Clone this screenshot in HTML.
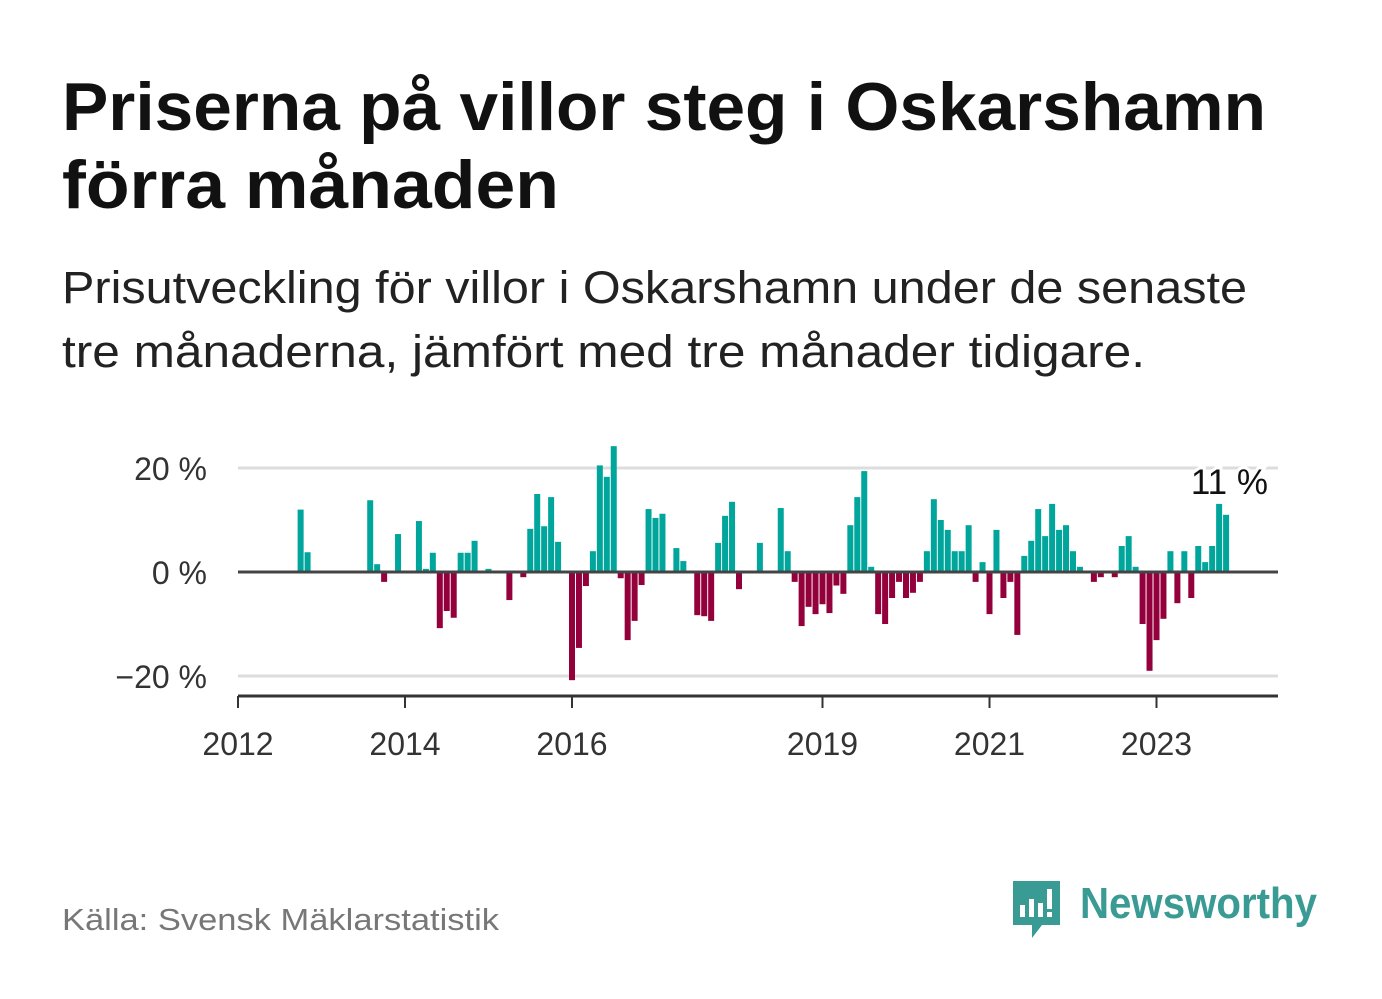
<!DOCTYPE html>
<html><head><meta charset="utf-8"><style>
html,body{margin:0;padding:0;background:#fff;}
svg{display:block;font-family:"Liberation Sans",sans-serif;}
</style></head><body>
<svg id="chart" width="1382" height="999" viewBox="0 0 1382 999">
<text x="62" y="130" font-size="68" font-weight="bold" fill="#111" textLength="1204" lengthAdjust="spacingAndGlyphs">Priserna på villor steg i Oskarshamn</text>
<text x="62" y="208" font-size="68" font-weight="bold" fill="#111" textLength="497" lengthAdjust="spacingAndGlyphs">förra månaden</text>
<text x="62" y="303" font-size="45" fill="#222" textLength="1185" lengthAdjust="spacingAndGlyphs">Prisutveckling för villor i Oskarshamn under de senaste</text>
<text x="62" y="367" font-size="45" fill="#222" textLength="1083" lengthAdjust="spacingAndGlyphs">tre månaderna, jämfört med tre månader tidigare.</text>
<g id="plot"></g>
<text x="62" y="930" font-size="31" fill="#777" textLength="437" lengthAdjust="spacingAndGlyphs">Källa: Svensk Mäklarstatistik</text>
<g>
<path d="M1013 881 h47 v44 h-18 l-10 13 v-13 h-19 z" fill="#3a9b94"/>
<rect x="1020" y="905" width="5" height="12" fill="#fff"/>
<rect x="1029" y="899" width="5" height="18" fill="#fff"/>
<rect x="1038" y="903" width="5" height="14" fill="#fff"/>
<rect x="1047" y="889" width="5" height="20" fill="#fff"/>
<rect x="1047" y="912" width="5" height="5" fill="#fff"/>
<text x="1080" y="918" font-size="44" font-weight="bold" fill="#3a9b94" textLength="237" lengthAdjust="spacingAndGlyphs">Newsworthy</text>
</g>
</svg>
<script>
const startYear = 2012;
const values = [null,null,null,null,null,null,null,null,null,12,3.8,null,
null,null,null,null,null,null,null,13.8,1.5,-1.9,null,7.3,
null,null,9.8,0.6,3.7,-10.8,-7.5,-8.8,3.7,3.7,6.0,null,
0.6,null,null,-5.4,null,-1.0,8.3,15,8.8,14.4,5.8,null,
-20.8,-14.6,-2.7,4.0,20.5,18.3,24.2,-1.2,-13.1,-9.4,-2.5,12.1,
10.4,11.2,null,4.6,2.1,null,-8.3,-8.5,-9.4,5.6,10.8,13.5,
-3.3,null,null,5.6,null,null,12.3,4.0,-1.9,-10.4,-6.7,-8.1,
-6.2,-7.9,-2.6,-4.2,9.0,14.4,19.4,1.0,-8.1,-10.0,-5.0,-1.9,
-5.0,-4.0,-1.9,4.0,14.0,10.0,8.1,4.0,4.0,9.0,-1.9,1.9,
-8.1,8.1,-5.0,-1.9,-12.1,3.1,6.0,12.1,6.9,13.1,8.1,9.0,
4.0,1.0,null,-1.9,-1.0,null,-1.0,5.0,6.9,1.0,-10.0,-19.0,
-13.1,-9.0,4.0,-6.0,4.0,-5.0,5.0,1.9,5.0,13.1,11.0];
const yTicks = [20, 0, -20];
const yTickLabels = ["20 %", "0 %", "\u221220 %"];
const xTicks = [2012, 2014, 2016, 2019, 2021, 2023];
const lastLabel = "11 %";

const NS = "http://www.w3.org/2000/svg";
const g = document.getElementById("plot");
const X0 = 238, X1 = 1278, yearW = 83.5;
const xMonth = i => X0 + i * yearW / 12;
const xYear = y => X0 + (y - startYear) * yearW;
const yV = v => 572 - v * 5.2;
function mk(tag, attrs){const e=document.createElementNS(NS,tag);for(const k in attrs)e.setAttribute(k,attrs[k]);g.appendChild(e);return e;}

yTicks.forEach((t,i)=>{
  if(t!==0){
    const l=mk("line",{x1:X0,x2:X1,y1:yV(t),y2:yV(t),stroke:"#dddddd","stroke-width":3});
    
    
  }
  const tx=mk("text",{x:207,y:yV(t)+12,"font-size":32,fill:"#333","text-anchor":"end"});
  tx.textContent=yTickLabels[i];
  
  
});

values.forEach((v,i)=>{
  if(v===null) return;
  const x=xMonth(i);
  const r=mk("rect",{x:x-3,width:6,y:v>=0?yV(v):yV(0),height:Math.abs(v)*5.2,fill:v>=0?"#00a59b":"#94003c"});
  
  
});

const z=mk("line",{x1:X0,x2:X1,y1:yV(0),y2:yV(0),stroke:"#444","stroke-width":3});


const ax=mk("line",{x1:X0,x2:X1,y1:696,y2:696,stroke:"#333","stroke-width":3});


xTicks.forEach(y=>{
  const x=xYear(y);
  const t=mk("line",{x1:x,x2:x,y1:696,y2:708,stroke:"#333","stroke-width":2});
  
  
  const tx=mk("text",{x:x,y:755,"font-size":32,fill:"#333","text-anchor":"middle"});
  tx.textContent=y;
  
  
});

const lab=mk("text",{x:1268,y:494,"font-size":35,fill:"#111","text-anchor":"end",stroke:"#fff","stroke-width":6,"paint-order":"stroke"});
lab.textContent=lastLabel;


</script>
</body></html>
